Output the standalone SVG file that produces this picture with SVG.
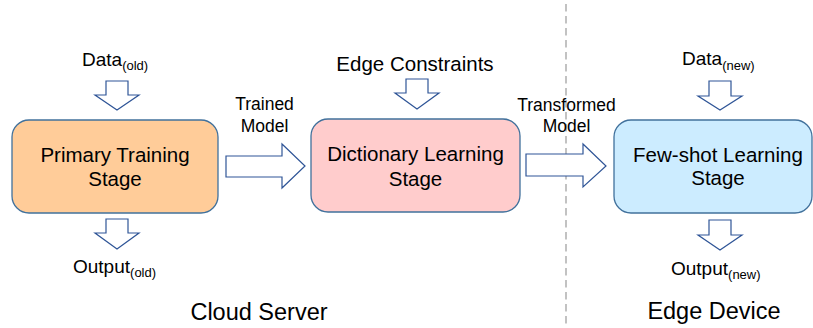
<svg xmlns="http://www.w3.org/2000/svg" width="813" height="328" viewBox="0 0 813 328">
<style>
text{font-family:"Liberation Sans",Arial,sans-serif;fill:#000}
.box{stroke:#41719C;stroke-width:1.3}
.arr{fill:#fff;stroke:#2F5597;stroke-width:1.2;stroke-linejoin:miter}
.t{font-size:20.5px;text-anchor:middle}
.l{font-size:19px}
.s{font-size:17.5px;text-anchor:middle}
.sub{font-size:13px}
.big{font-size:23.5px;text-anchor:middle}
</style>
<rect width="813" height="328" fill="#fff"/>
<line x1="566" y1="4" x2="566" y2="328" stroke="#b3b3b3" stroke-width="1.6" stroke-dasharray="7.5,4.5"/>
<g id="connectors">
<polygon class="arr" points="106,81 128,81 128,95 139,95 117,110 95,95 106,95"/>
<polygon class="arr" points="106,219 128,219 128,233 139,233 117,249 95,233 106,233"/>
<polygon class="arr" points="406,79 428,79 428,93 439,93 417,109 395,93 406,93"/>
<polygon class="arr" points="709,81 731,81 731,96 742,96 720,110 698,96 709,96"/>
<polygon class="arr" points="709,220 731,220 731,235 742,235 720,250 698,235 709,235"/>
<polygon class="arr" points="226,156 282,156 282,144 305,166 282,188 282,177 226,177"/>
<polygon class="arr" points="526,154 583,154 583,144 606,166 583,187 583,176 526,176"/>
</g>
<g id="node-primary">
<rect class="box" x="12" y="120" width="206" height="93" rx="17" fill="#FFCC99"/>
<text class="t" x="115" y="162">Primary Training</text>
<text class="t" x="115" y="186">Stage</text>
</g>
<g id="node-dictionary">
<rect class="box" x="311" y="119" width="209" height="93" rx="17" fill="#FFCCCC"/>
<text class="t" x="415.5" y="161">Dictionary Learning</text>
<text class="t" x="415.5" y="186">Stage</text>
</g>
<g id="node-fewshot">
<rect class="box" x="614" y="120" width="198" height="93" rx="17" fill="#CCECFF"/>
<text class="t" x="718" y="162">Few-shot Learning</text>
<text class="t" x="718" y="185">Stage</text>
</g>
<g id="labels">
<text class="l" x="82" y="66">Data<tspan class="sub" dy="4">(old)</tspan></text>
<text class="l" x="73" y="273">Output<tspan class="sub" dy="4">(old)</tspan></text>
<text class="l" x="682" y="65">Data<tspan class="sub" dy="5">(new)</tspan></text>
<text class="l" x="671" y="275">Output<tspan class="sub" dy="4">(new)</tspan></text>
<text x="415" y="71" text-anchor="middle" font-size="20.5">Edge Constraints</text>
<text class="s" x="264.5" y="110">Trained</text>
<text class="s" x="264.5" y="132">Model</text>
<text class="s" x="566.5" y="111">Transformed</text>
<text class="s" x="566.5" y="132">Model</text>
<text class="big" x="259" y="320">Cloud Server</text>
<text class="big" x="714" y="319">Edge Device</text>
</g>
</svg>
